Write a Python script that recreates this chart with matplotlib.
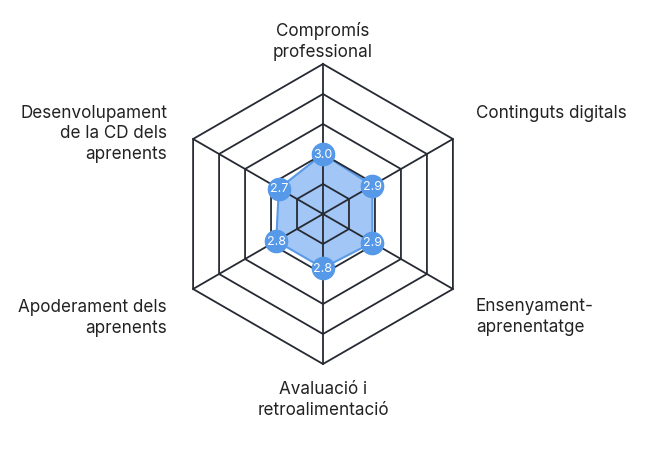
import numpy as np
import matplotlib.pyplot as plt

categories = ["Compromís\nprofessional", "Continguts digitals", "Ensenyament-\naprenentatge",
              "Avaluació i\nretroalimentació", "Apoderament dels\naprenents",
              "Desenvolupament\nde la CD dels\naprenents"]
values = [3.0, 2.9, 2.9, 2.8, 2.8, 2.7]
rings = [2, 3, 4, 5, 6]
center_value = 1

plt.rcParams['font.family'] = ['Inter', 'DejaVu Sans']

fig = plt.figure(figsize=(6.46, 4.6), dpi=100)
ax = fig.add_axes([0, 0, 1, 1])
scale = 30.0  # pixels per unit
cx, cy = 323, 215
ax.set_xlim(-cx / scale, (646 - cx) / scale)
ax.set_ylim(-(460 - cy) / scale, cy / scale)
ax.set_aspect('equal')
ax.axis('off')

angles = np.deg2rad(90 - 60 * np.arange(len(categories)))
grid_col = '#262a33'

# rings
for v in rings:
    r = v - center_value
    xs = np.append(r * np.cos(angles), r * np.cos(angles[0]))
    ys = np.append(r * np.sin(angles), r * np.sin(angles[0]))
    ax.plot(xs, ys, color=grid_col, lw=1.3, zorder=3)

# spokes
rmax = rings[-1] - center_value
for a in angles:
    ax.plot([0, rmax * np.cos(a)], [0, rmax * np.sin(a)], color=grid_col, lw=1.3, zorder=3)

# data polygon
rv = np.array(values) - center_value
px = rv * np.cos(angles)
py = rv * np.sin(angles)
ax.fill(px, py, color='#a2c6f6', zorder=2)
ax.plot(np.append(px, px[0]), np.append(py, py[0]), color='#5a9be8', lw=1.5, zorder=2)
ax.plot(px, py, 'o', ms=16, color='#5599e8', mec='#5599e8', zorder=4)
for x, y, v in zip(px, py, values):
    ax.text(x, y, f"{v:.1f}", color='white', fontsize=9, ha='center', va='center', zorder=5)

# category labels
offsets = [(0, 4, 'center', 'bottom'), (23, 27, 'left', 'center'), (23, -27, 'left', 'center'),
           (0, -16, 'center', 'top'), (-26, -28, 'right', 'center'), (-26, 6, 'right', 'center')]
for a, lab, (dx, dy, ha, va) in zip(angles, categories, offsets):
    ax.annotate(lab, xy=(rmax * np.cos(a), rmax * np.sin(a)), xytext=(dx, dy),
                textcoords='offset pixels', ha=ha, va=va, multialignment=ha,
                fontsize=12.3, color='#222222', linespacing=1.3)

fig.savefig('out.png', dpi=100)
